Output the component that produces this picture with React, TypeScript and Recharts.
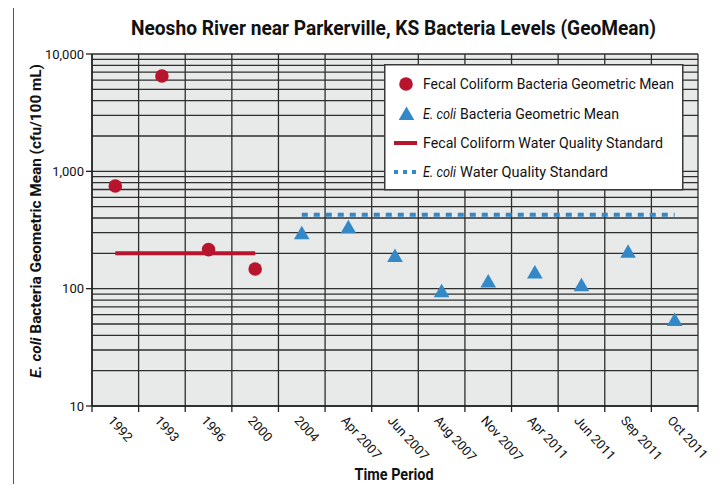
import React from "react";
import {
  ComposedChart,
  CartesianGrid,
  XAxis,
  YAxis,
  Line,
  Scatter,
  ReferenceLine,
  Legend,
} from "recharts";

const periods = [
  "1992",
  "1993",
  "1996",
  "2000",
  "2004",
  "Apr 2007",
  "Jun 2007",
  "Aug 2007",
  "Nov 2007",
  "Apr 2011",
  "Jun 2011",
  "Sep 2011",
  "Oct 2011",
];
const fecalGeoMean = [750, 6500, 215, 147, null, null, null, null, null, null, null, null, null];
const ecoliGeoMean = [null, null, null, null, 297, 334, 190, 95, 115, 137, 107, 206, 54];
const fecalStandard = [200, 200, 200, 200, null, null, null, null, null, null, null, null, null];
const ecoliStandard = [null, null, null, null, 427, 427, 427, 427, 427, 427, 427, 427, 427];
const yTicks = [10, 100, 1000, 10000];

const FONT = "Roboto, 'Liberation Sans', sans-serif";
const RED = "#b8142e";
const BLUE = "#3388c8";
const GRID = "#2e2e2e";

const W = 722;
const H = 492;
const PLOT_LEFT = 92;
const PLOT_RIGHT = 698;
const HALF = (PLOT_RIGHT - PLOT_LEFT) / periods.length / 2;

const rows = periods.map((p, i) => ({
  x: i + 0.5,
  period: p,
  fecalStd: fecalStandard[i],
  ecoliStd: ecoliStandard[i],
}));
const fecalPts = periods
  .map((p, i) => ({ x: i + 0.5, fecal: fecalGeoMean[i] }))
  .filter((d) => d.fecal != null);
const ecoliPts = periods
  .map((p, i) => ({ x: i + 0.5, ecoli: ecoliGeoMean[i] }))
  .filter((d) => d.ecoli != null);

// horizontal log grid: 1..9 in every decade
const logGrid: number[] = [];
[10, 100, 1000].forEach((d) => {
  for (let k = 1; k <= 9; k++) logGrid.push(d * k);
});
logGrid.push(10000);

const boundaries = periods.map((_, i) => i).concat(periods.length);

const PeriodTick = (props: any) => {
  const { x, y, payload } = props;
  const label = periods[payload.value];
  if (!label) return null;
  const ax = x + HALF - 8;
  const ay = y + 7;
  return (
    <text
      x={ax}
      y={ay}
      transform={`rotate(48, ${ax}, ${ay})`}
      textAnchor="start"
      fontFamily={FONT}
      fontSize={13}
      fill="#111"
    >
      {label}
    </text>
  );
};

const Dot = (props: any) => {
  const { cx, cy } = props;
  return <circle cx={cx} cy={cy} r={6.8} fill={RED} />;
};

const Tri = (props: any) => {
  const { cx, cy } = props;
  return (
    <polygon
      points={`${cx},${cy - 7.5} ${cx + 7.8},${cy + 6} ${cx - 7.8},${cy + 6}`}
      fill={BLUE}
    />
  );
};

// one legend text run, width
const run = (x: number, y: number, len: number, s: string, italic = false) => (
  <text
    x={x}
    y={y + 5}
    fontFamily={FONT}
    fontSize={14}
    fontStyle={italic ? "italic" : "normal"}
    fill="#111"
    textLength={len}
    lengthAdjust="spacingAndGlyphs"
  >
    {s}
  </text>
);

const LegendBox = () => (
  <svg width={300} height={127} style={{ display: "block" }}>
    <rect x={0.75} y={0.75} width={298} height={125} fill="#fff" stroke="#3a3a3a" strokeWidth={1.5} />
    <circle cx={22} cy={20} r={6.8} fill={RED} />
    {run(39, 20, 251, "Fecal Coliform Bacteria Geometric Mean")}
    <polygon points="22.5,42.5 30.3,56 14.7,56" fill={BLUE} />
    {run(39, 50, 33, "E. coli", true)}
    {run(76, 50, 159, "Bacteria Geometric Mean")}
    <line x1={10} x2={33} y1={79} y2={79} stroke={RED} strokeWidth={4} />
    {run(39, 79, 240, "Fecal Coliform Water Quality Standard")}
    <line x1={10} x2={33} y1={108} y2={108} stroke={BLUE} strokeWidth={4} strokeDasharray="4 5" />
    {run(39, 108, 33, "E. coli", true)}
    {run(76, 108, 148, "Water Quality Standard")}
  </svg>
);

const YLabel = () => (
  <text
    x={41}
    y={221}
    transform="rotate(-90, 41, 221)"
    textAnchor="middle"
    fontFamily={FONT}
    fontSize={15}
    fontWeight="bold"
    fill="#111"
    textLength={314}
    lengthAdjust="spacingAndGlyphs"
  >
    <tspan fontStyle="italic">E. coli</tspan>
    <tspan> Bacteria Geometric Mean  (cfu/100 mL)</tspan>
  </text>
);

const XLabel = () => (
  <text
    x={394}
    y={480}
    textAnchor="middle"
    fontFamily={FONT}
    fontSize={16}
    fontWeight="bold"
    fill="#111"
    textLength={79}
    lengthAdjust="spacingAndGlyphs"
  >
    Time Period
  </text>
);

export default function App() {
  return (
    <div
      style={{
        position: "relative",
        width: W,
        height: H,
        margin: -8,
        background: "#fff",
        overflow: "hidden",
      }}
    >
      <div
        style={{
          position: "absolute",
          left: 13,
          top: 5,
          width: 704,
          height: 600,
          border: "1.5px solid #555",
          boxSizing: "border-box",
        }}
      />
      <div
        style={{
          position: "absolute",
          left: 718,
          top: 0,
          width: 4,
          height: H,
          background: "#c3ccd6",
        }}
      />
      <svg
        width={W}
        height={50}
        style={{ position: "absolute", left: 0, top: 0 }}
      >
        <text
          x={393.5}
          y={35}
          textAnchor="middle"
          fontFamily={FONT}
          fontWeight="bold"
          fontSize={21}
          fill="#111"
          textLength={525}
          lengthAdjust="spacingAndGlyphs"
        >
          Neosho River near Parkerville, KS Bacteria Levels (GeoMean)
        </text>
      </svg>
      <div style={{ position: "absolute", left: 0, top: 0 }}>
        <ComposedChart
          width={W}
          height={H}
          data={rows}
          margin={{ top: 54, right: W - PLOT_RIGHT, bottom: 0, left: PLOT_LEFT - 60 }}
        >
          <CartesianGrid
            horizontal={false}
            vertical
            stroke={GRID}
            strokeWidth={1.3}
            fill="#e8e9e9"
          />
          {logGrid.map((v) => (
            <ReferenceLine
              key={v}
              y={v}
              stroke={GRID}
              strokeWidth={1.3}
              ifOverflow="extendDomain"
            />
          ))}
          <XAxis
            type="number"
            dataKey="x"
            domain={[0, periods.length]}
            ticks={boundaries}
            interval={0}
            height={H - 406}
            tick={<PeriodTick />}
            tickSize={6}
            tickLine={{ stroke: "#222", strokeWidth: 1.3 }}
            axisLine={{ stroke: "#222", strokeWidth: 1.5 }}
            label={XLabel}
          />
          <YAxis
            type="number"
            scale="log"
            domain={[10, 10000]}
            ticks={yTicks}
            allowDataOverflow
            width={60}
            tickSize={6}
            tickLine={{ stroke: "#222", strokeWidth: 1.3 }}
            axisLine={{ stroke: "#222", strokeWidth: 1.5 }}
            tickFormatter={(v: number) => v.toLocaleString("en-US")}
            tick={{ fontFamily: FONT, fontSize: 13, fill: "#111" }}
            label={YLabel}
          />
          <Line
            dataKey="fecalStd"
            stroke={RED}
            strokeWidth={4}
            dot={false}
            activeDot={false}
            isAnimationActive={false}
          />
          <Line
            dataKey="ecoliStd"
            stroke={BLUE}
            strokeWidth={4}
            strokeDasharray="6 6"
            dot={false}
            activeDot={false}
            isAnimationActive={false}
          />
          <Scatter data={fecalPts} dataKey="fecal" shape={<Dot />} isAnimationActive={false} />
          <Scatter data={ecoliPts} dataKey="ecoli" shape={<Tri />} isAnimationActive={false} />
          <Legend
            layout="horizontal"
            verticalAlign="middle"
            align="center"
            content={<LegendBox />}
            wrapperStyle={{ position: "absolute", left: 384, top: 64, width: 300 }}
          />
        </ComposedChart>
      </div>
    </div>
  );
}
